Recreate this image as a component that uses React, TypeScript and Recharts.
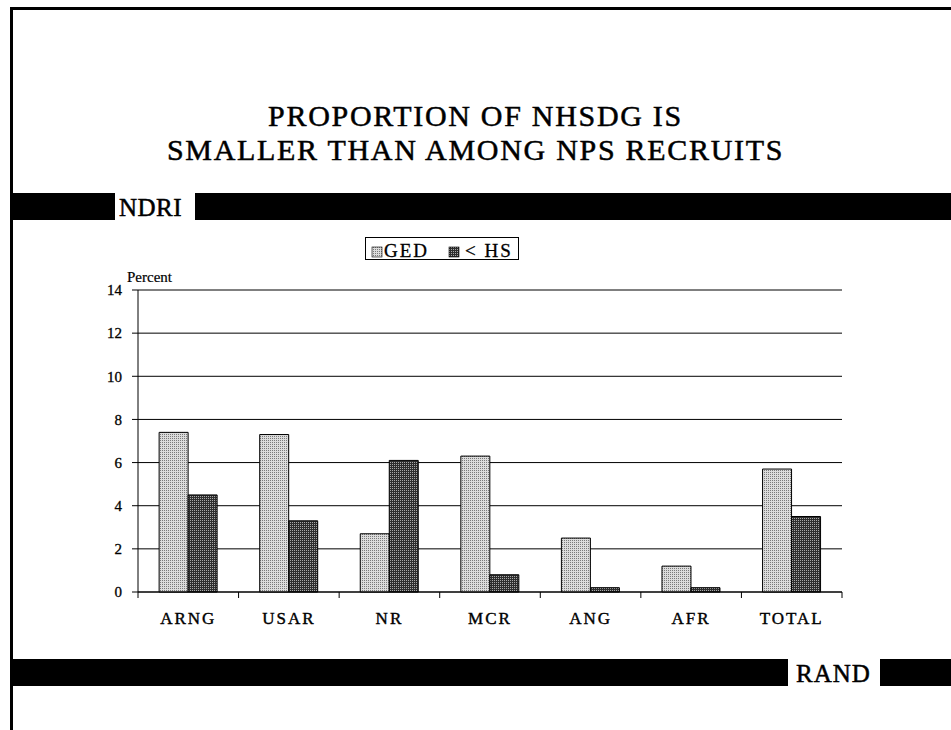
import { BarChart, Bar, XAxis, YAxis, CartesianGrid } from 'recharts';

// =============================================================================
// Data
// =============================================================================

const categories = ['ARNG', 'USAR', 'NR', 'MCR', 'ANG', 'AFR', 'TOTAL'];
const gedValues = [7.4, 7.3, 2.7, 6.3, 2.5, 1.2, 5.7];
const lessHsValues = [4.5, 3.3, 6.1, 0.8, 0.2, 0.2, 3.5];
const seriesNames = ['GED', '< HS'];
const yTicks = [0, 2, 4, 6, 8, 10, 12, 14];
const titleLines = ['PROPORTION OF NHSDG IS', 'SMALLER THAN AMONG NPS RECRUITS'];

const data = categories.map((category, i) => ({
  category,
  ged: gedValues[i],
  lessHs: lessHsValues[i],
}));

// =============================================================================
// Layout
// =============================================================================

const W = 951;
const H = 730;
const SERIF = "Liberation Serif, DejaVu Serif, serif";
const MARGIN = { top: 290, right: 109, bottom: 108, left: 0 };
const Y_AXIS_W = 138;
const PLOT_W = W - MARGIN.left - MARGIN.right - Y_AXIS_W;
const BAND = PLOT_W / categories.length;
const TICK = 6;

// scanned print looks heavier than the plain serif face
const INK = { WebkitTextStroke: '0.5px #000' } as const;

function CategoryTick(props: any) {
  const { x, y, payload, index } = props;
  const axisY = y - TICK;
  const half = BAND / 2;
  return (
    <g>
      <line x1={x - half} x2={x - half} y1={axisY} y2={axisY + TICK} stroke="#000" />
      {index === categories.length - 1 && (
        <line x1={x + half} x2={x + half} y1={axisY} y2={axisY + TICK} stroke="#000" />
      )}
      <text
        x={x}
        y={axisY + 32}
        textAnchor="middle"
        style={{ fontFamily: SERIF }}
        fontSize={17}
        letterSpacing={2}
        fill="#000"
        stroke="#000"
        strokeWidth={0.4}
      >
        {payload.value}
      </text>
    </g>
  );
}

function PercentLabel(props: any) {
  const { viewBox } = props;
  return (
    <text
      x={viewBox.x + viewBox.width - 11}
      y={viewBox.y - 8}
      style={{ fontFamily: SERIF }}
      fontSize={15}
      fill="#000"
      stroke="#000"
      strokeWidth={0.2}
    >
      Percent
    </text>
  );
}

function Patterns({ prefix }: { prefix: string }) {
  return (
    <defs>
      <pattern id={`${prefix}-light`} width={2} height={2} patternUnits="userSpaceOnUse">
        <rect width={2} height={2} fill="#dcdcdc" />
        <rect width={1} height={1} fill="#7a7a7a" />
      </pattern>
      <pattern id={`${prefix}-dark`} width={2} height={2} patternUnits="userSpaceOnUse">
        <rect width={2} height={2} fill="#2e2e2e" />
        <rect width={1} height={1} fill="#a8a8a8" />
      </pattern>
    </defs>
  );
}

function LegendBox() {
  const fills = ['lg-light', 'lg-dark'];
  const swatchX = [7, 84];
  const textX = [19, 100];
  return (
    <svg
      width={154}
      height={23}
      style={{ position: 'absolute', left: 365, top: 237 }}
    >
      <Patterns prefix="lg" />
      <rect x={0.5} y={0.5} width={153} height={22} fill="#fff" stroke="#000" />
      {seriesNames.map((name, i) => (
        <g key={name}>
          <rect x={swatchX[i]} y={10} width={10} height={10} fill={`url(#${fills[i]})`} stroke="#000" strokeWidth={0.6} />
          <text x={textX[i]} y={20} style={{ fontFamily: SERIF }} fontSize={19} letterSpacing={2} fill="#000" stroke="#000" strokeWidth={0.3}>
            {name}
          </text>
        </g>
      ))}
    </svg>
  );
}

const band = (left: number, top: number, width: number, height: number) => (
  <div style={{ position: 'absolute', left, top, width, height, background: '#000' }} />
);

export default function App() {
  return (
    <div style={{ position: 'absolute', left: 0, top: 0, width: W, height: H, background: '#fff', overflow: 'hidden', fontFamily: SERIF }}>
      {/* page frame */}
      <div style={{ position: 'absolute', left: 10, top: 7, width: W - 10, height: 3, background: '#000' }} />
      <div style={{ position: 'absolute', left: 10, top: 7, width: 3, height: H - 7, background: '#000' }} />

      {/* title */}
      {titleLines.map((line, i) => (
        <div
          key={line}
          style={{
            position: 'absolute',
            left: 0,
            width: W,
            top: 101 + i * 34,
            textAlign: 'center',
            fontFamily: SERIF,
            fontSize: 30,
            lineHeight: '30px',
            letterSpacing: 1.7,
            color: '#000',
            ...INK,
          }}
        >
          {line}
        </div>
      ))}

      {/* NDRI band */}
      {band(11, 193, 104, 27)}
      <div style={{ position: 'absolute', left: 119, top: 194, fontFamily: SERIF, fontSize: 25, lineHeight: '27px', letterSpacing: 0.5, ...INK }}>
        NDRI
      </div>
      {band(195, 193, W - 195, 27)}

      {/* RAND band */}
      {band(11, 659, 777, 27)}
      <div style={{ position: 'absolute', left: 796, top: 660, fontFamily: SERIF, fontSize: 25, lineHeight: '27px', letterSpacing: 1, ...INK }}>
        RAND
      </div>
      {band(880, 659, W - 880, 27)}

      <LegendBox />

      <div style={{ position: 'absolute', left: 0, top: 0 }}>
        <BarChart
          width={W}
          height={H}
          data={data}
          margin={MARGIN}
          barCategoryGap="21%"
          barGap={0}
        >
          <Patterns prefix="ch" />
          <CartesianGrid vertical={false} stroke="#000" strokeWidth={1} />
          <XAxis
            dataKey="category"
            height={30}
            tickLine={false}
            tickSize={TICK}
            tickMargin={0}
            axisLine={{ stroke: '#000' }}
            tick={<CategoryTick />}
            interval={0}
          />
          <YAxis
            width={Y_AXIS_W}
            domain={[0, 14]}
            ticks={yTicks}
            interval={0}
            tickSize={TICK}
            tickMargin={10}
            axisLine={{ stroke: '#000' }}
            tickLine={{ stroke: '#000' }}
            tick={{ fontFamily: SERIF, fontSize: 15, fill: '#000', stroke: '#000', strokeWidth: 0.3 }}
            label={<PercentLabel />}
          />
          <Bar dataKey="ged" name={seriesNames[0]} fill="url(#ch-light)" stroke="#000" strokeWidth={1} isAnimationActive={false} />
          <Bar dataKey="lessHs" name={seriesNames[1]} fill="url(#ch-dark)" stroke="#000" strokeWidth={1} isAnimationActive={false} />
        </BarChart>
      </div>
    </div>
  );
}
